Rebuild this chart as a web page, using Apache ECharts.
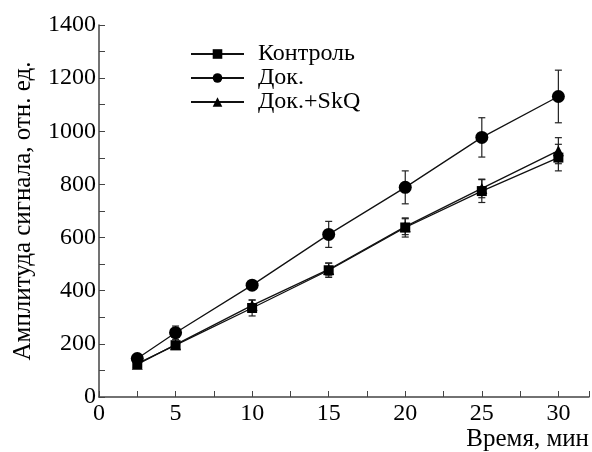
<!DOCTYPE html>
<html><head><meta charset="utf-8">
<script src="https://cdn.jsdelivr.net/npm/echarts@6/dist/echarts.min.js"></script>
<style>html,body{margin:0;padding:0;background:#fff}#c{width:592px;height:452px}</style>
</head><body><div id="c"></div>
<script>
var times = [2.5, 5, 10, 15, 20, 25, 30];
var control = [126, 195, 335, 477, 638, 775, 901];
var controlErr = [0, 10, 30, 27, 36, 43, 50];
var dok = [145, 242, 421, 612, 789, 977, 1131];
var dokErr = [0, 25, 0, 49, 62, 74, 99];
var skq = [123, 197, 345, 480, 641, 785, 927];
var skqErr = [0, 10, 20, 24, 30, 35, 49];
var seriesNames = ['Контроль', 'Док.', 'Док.+SkQ'];
var xTicks = [0, 5, 10, 15, 20, 25, 30];
var yTicks = [0, 200, 400, 600, 800, 1000, 1200, 1400];

var FONT = 'Liberation Serif';
function pts(v){ return times.map(function(t,i){ return [t, v[i]]; }); }
function errData(v, e){ return times.map(function(t,i){ return [t, v[i]-e[i], v[i]+e[i]]; }).filter(function(d){return d[2]>d[1];}); }
function errSeries(v, e){
  return {
    type: 'custom', silent: true, z: 1,
    data: errData(v, e),
    renderItem: function(params, api){
      var x = api.value(0);
      var lo = api.coord([x, api.value(1)]);
      var hi = api.coord([x, api.value(2)]);
      var w = 3.5;
      var st = {stroke: '#222', lineWidth: 1.2};
      return {type: 'group', children: [
        {type: 'line', shape: {x1: lo[0], y1: lo[1], x2: hi[0], y2: hi[1]}, style: st},
        {type: 'line', shape: {x1: lo[0]-w, y1: lo[1], x2: lo[0]+w, y2: lo[1]}, style: st},
        {type: 'line', shape: {x1: hi[0]-w, y1: hi[1], x2: hi[0]+w, y2: hi[1]}, style: st}
      ]};
    }
  };
}
function lineSeries(name, v, sym, size){
  return {
    name: name, type: 'line', data: pts(v), symbol: sym, symbolSize: size, z: 3,
    lineStyle: {color: '#111', width: 1.3}, itemStyle: {color: '#000'}, animation: false
  };
}
var chart = echarts.init(document.getElementById('c'));
chart.setOption({
  animation: false,
  textStyle: {fontFamily: FONT},
  grid: {left: 99, right: 2, top: 25, bottom: 55},
  legend: {
    left: 190, top: 42, padding: 0, orient: 'vertical', itemGap: 0, itemWidth: 53, itemHeight: 12,
    data: seriesNames,
    textStyle: {fontFamily: FONT, fontSize: 24, color: '#000', padding: [0,0,0,9]}
  },
  xAxis: {
    type: 'value', min: 0, max: 32, interval: 5,
    axisLine: {lineStyle: {color: '#444', width: 1.5}},
    axisTick: {inside: true, length: 6, lineStyle: {color: '#444'}},
    minorTick: {show: true, splitNumber: 2, length: 6, lineStyle: {color: '#444'}},
    splitLine: {show: false},
    axisLabel: {fontFamily: FONT, fontSize: 24, color: '#000', margin: 5,
      formatter: function(v){ return xTicks.indexOf(v) >= 0 ? String(v) : ''; }},
    name: 'Время, мин', nameLocation: 'end', nameGap: 0,
    nameTextStyle: {fontFamily: FONT, fontSize: 25, color: '#000', align: 'right', verticalAlign: 'top', padding: [30, 0, 0, 0]}
  },
  yAxis: {
    type: 'value', min: 0, max: 1400, interval: 200,
    axisLine: {show: true, lineStyle: {color: '#444', width: 1.5}},
    axisTick: {show: true, inside: true, length: 6, lineStyle: {color: '#444'}},
    minorTick: {show: true, splitNumber: 2, length: 6, lineStyle: {color: '#444'}},
    splitLine: {show: false},
    axisLabel: {fontFamily: FONT, fontSize: 24, color: '#000', margin: 3,
      formatter: function(v){ return yTicks.indexOf(v) >= 0 ? String(v) : ''; }},
    name: 'Амплитуда сигнала, отн. ед.', nameLocation: 'middle', nameGap: 63, nameRotate: 90,
    nameTextStyle: {fontFamily: FONT, fontSize: 25, color: '#000'}
  },
  series: [
    errSeries(control, controlErr),
    errSeries(dok, dokErr),
    errSeries(skq, skqErr),
    lineSeries(seriesNames[0], control, 'rect', 10),
    lineSeries(seriesNames[1], dok, 'circle', 13),
    lineSeries(seriesNames[2], skq, 'triangle', 11)
  ]
});
</script></body></html>
